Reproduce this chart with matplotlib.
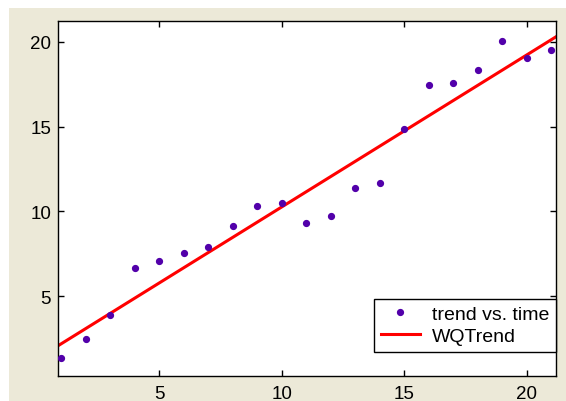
import matplotlib
matplotlib.use("Agg")
import matplotlib.pyplot as plt
from matplotlib.patches import Rectangle

# Data
time = [1, 2, 3, 4, 5, 6, 7, 8, 9, 10, 11, 12, 13, 14, 15, 16, 17, 18, 19, 20, 21]
trend = [1.35, 2.49, 3.92, 6.65, 7.10, 7.55, 7.88, 9.13, 10.30, 10.49, 9.31,
         9.74, 11.38, 11.65, 14.84, 17.45, 17.55, 18.35, 20.02, 19.06, 19.51]
fit_x = [0.86, 21.2]
fit_y = [2.09, 20.29]
xticks = [5, 10, 15, 20]
yticks = [5, 10, 15, 20]

plt.rcParams['font.family'] = ['Liberation Sans', 'DejaVu Sans']

fig = plt.figure(figsize=(5.66, 4.02), dpi=100, facecolor='white')
fig.patches.append(Rectangle((9 / 566, 0), 1, (402 - 9) / 402,
                             transform=fig.transFigure, facecolor='#ECE9D8',
                             edgecolor='none', zorder=-10))

ax = fig.add_axes([58 / 566, 1 - 377 / 402, (556 - 58) / 566, (377 - 22) / 402])
ax.set_facecolor('white')

ax.plot(time, trend, linestyle='none', marker='o', markersize=4.2,
        color='#5200AA', label='trend vs. time', zorder=3)
ax.plot(fit_x, fit_y, color='#FF0000', linewidth=2.2, label='WQTrend', zorder=2)

ax.set_xlim(0.86, 21.2)
ax.set_ylim(0.31, 21.22)
ax.set_xticks(xticks)
ax.set_yticks(yticks)
ax.tick_params(direction='in', length=4, width=1, labelsize=13.5, pad=5,
               top=True, right=True, colors='black')
ax.tick_params(axis='x', pad=6.5)
for s in ax.spines.values():
    s.set_linewidth(1.0)
    s.set_color('black')

leg = ax.legend(loc='lower right', bbox_to_anchor=(1.0, 0.0676),
                borderaxespad=0, fontsize=14, fancybox=False, framealpha=1,
                edgecolor='black', handlelength=2.0, handletextpad=0.62,
                borderpad=0.35, labelspacing=0.24, numpoints=1)
leg.get_frame().set_linewidth(1.0)

fig.savefig('out.png', dpi=100, facecolor=fig.get_facecolor())
